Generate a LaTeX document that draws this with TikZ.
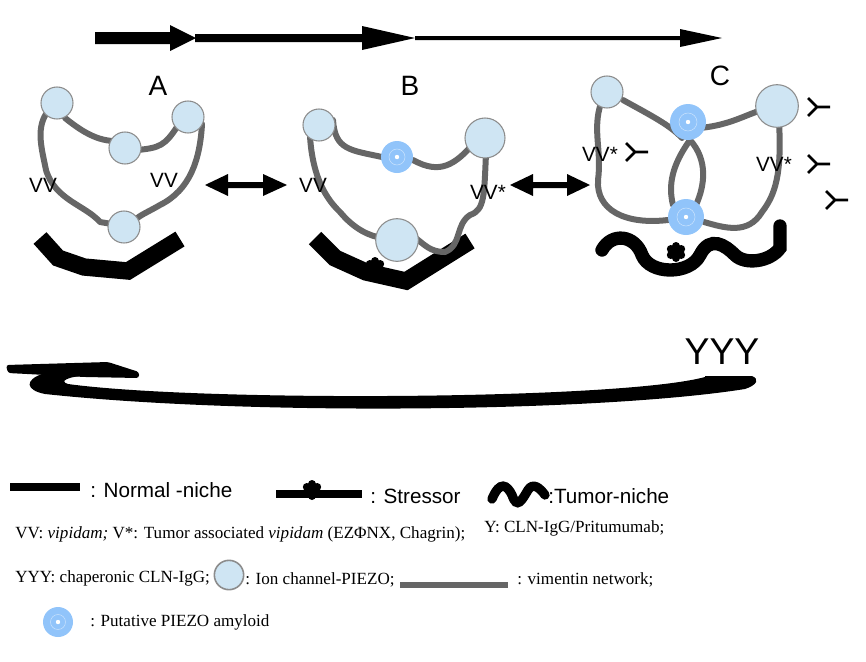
\documentclass[tikz,border=0pt]{standalone}
\usepackage{fontspec}
\setmainfont{Liberation Sans}
\newfontfamily\serif{Liberation Serif}
\usetikzlibrary{calc}
\definecolor{fil}{RGB}{102,102,102}
\definecolor{pz}{RGB}{207,229,243}
\definecolor{amy}{RGB}{145,196,250}
\begin{document}
\begin{tikzpicture}[x=0.75pt,y=-0.75pt,
  fila/.style={draw=fil,line width=4.5pt,line cap=round,line join=round},
  niche/.style={draw=black,line width=13pt,line join=miter},
  tumor/.style={draw=black,line width=10pt,line cap=round},
  lbl/.style={font=\fontsize{21}{24}\selectfont,inner sep=0},
  vv/.style={font=\fontsize{15.5}{18}\selectfont,inner sep=0},
  leg/.style={font=\fontsize{15.5}{18}\selectfont,inner sep=0,anchor=west},
  legs/.style={font=\serif\fontsize{12.8}{15}\selectfont,inner sep=0,anchor=west},
  pzo/.style={circle,fill=pz,draw=gray!90,line width=0.8pt,inner sep=0}]
\useasboundingbox (0,0) rectangle (866,661);
\newcommand\amy[3]{\fill[amy] (#1,#2) circle (#3);
  \draw[white,opacity=.5,line width=.4pt] (#1,#2) circle (#3*0.5);
  \fill[white] (#1,#2) circle (2.2);}
\newcommand\stre[2]{\foreach \a in {30,90,...,330}{\fill (#1,#2) ++(\a:6) circle (4);}\fill (#1,#2) circle (6);}
\newcommand\yy[2]{\draw[line width=2pt] (#1,#2-9) -- (#1+9,#2) -- (#1,#2+9) (#1+9,#2) -- (#1+22,#2);}
% top arrows
\fill (95,32) -- (170,32) -- (170,25) -- (196,38) -- (170,51) -- (170,44) -- (95,44) -- cycle;
\fill (195,34) -- (362,34) -- (362,26) -- (415,38) -- (362,50) -- (362,42) -- (195,42) -- cycle;
\fill (415,36) -- (680,36) -- (680,29) -- (722,38) -- (680,47) -- (680,40) -- (415,40) -- cycle;
% labels
\node[lbl] (lA) at (158,86) {A};
\node[lbl] (lB) at (410,86) {B};
\node[lbl] (lC) at (720,76) {C};
% double arrows
\fill (205,185) -- (228,174) -- (228,182) -- (263,182) -- (263,174) -- (287,185) -- (263,196) -- (263,188) -- (228,188) -- (228,196) -- cycle;
\fill (510,185) -- (533,174) -- (533,182) -- (567,182) -- (567,174) -- (590,185) -- (567,196) -- (567,188) -- (533,188) -- (533,196) -- cycle;
% ---- A
\draw[niche] (40,238) -- (58,258) -- (84,267) -- (128,271) -- (180,239);
\draw[fila] (46,114) .. controls (36,130) and (42,150) .. (46,170) .. controls (55,200) and (85,205) .. (100,222) -- (112,224);
\draw[fila] (65,118) .. controls (80,130) and (95,140) .. (113,141);
\draw[fila] (137,150) .. controls (160,148) and (165,145) .. (177,127);
\draw[fila] (202,124) .. controls (200,160) and (190,190) .. (160,205) .. controls (148,212) and (140,215) .. (135,220);
\node[pzo,minimum size=24] (a1) at (57,103) {};
\node[pzo,minimum size=24] (a2) at (188,117) {};
\node[pzo,minimum size=24] (a3) at (125,148) {};
\node[pzo,minimum size=24] (a4) at (124,227) {};
\node[vv] (va1) at (43,185) {VV};
\node[vv] (va2) at (164,180) {VV};
% ---- B
\draw[niche] (315,238) -- (335,258) -- (366,272) -- (406,281) -- (470,241);
\stre{375}{267}
\draw[fila] (310,136) .. controls (312,170) and (322,195) .. (340,212) .. controls (355,230) and (370,236) .. (382,238);
\draw[fila] (333,120) .. controls (335,150) and (350,150) .. (382,157);
\draw[fila] (413,160) .. controls (440,175) and (455,165) .. (475,142);
\draw[fila] (486,154) .. controls (484,195) and (485,210) .. (470,215) .. controls (455,225) and (462,245) .. (445,252) .. controls (430,252) and (425,245) .. (413,236);
\node[pzo,minimum size=24] (b1) at (319,125) {};
\amy{397}{157}{16}
\node[pzo,minimum size=30] (b3) at (485,138) {};
\node[pzo,minimum size=32] (b4) at (397,240) {};
\node[vv] (vb1) at (313,185) {VV};
\node[vv] (vb2) at (488,192) {VV*};
% ---- C
\draw[tumor] (602,250) .. controls (612,232) and (635,235) .. (642,255) .. controls (650,275) and (690,275) .. (700,255) .. controls (710,235) and (725,245) .. (735,255) .. controls (745,265) and (770,262) .. (780,248) -- (780,226);
\stre{676}{252}
\draw[fila] (601,103) .. controls (592,130) and (602,150) .. (598,180) .. controls (596,210) and (625,225) .. (668,220);
\draw[fila] (623,100) .. controls (650,115) and (670,125) .. (682,138);
\draw[fila] (700,128) .. controls (730,125) and (745,115) .. (762,110);
\draw[fila] (779,122) .. controls (782,175) and (775,195) .. (762,212) .. controls (748,235) and (725,228) .. (704,222);
\draw[fila] (690,140) .. controls (672,165) and (668,185) .. (673,205);
\draw[fila] (690,140) .. controls (708,160) and (705,185) .. (696,205);
\node[pzo,minimum size=24] (c1) at (607,92) {};
\node[pzo,minimum size=32] (c3) at (777,106) {};
\amy{688}{122}{18}
\amy{686}{217}{18}
\node[vv] (vc1) at (600,154) {VV*};
\node[vv] (vc2) at (774,164) {VV*};
\yy{626}{152}
\yy{808}{107}
\yy{808}{164}
\yy{826}{200}
% ---- bottom arrow
\fill (705,376) -- (752,376) .. controls (760,379) and (757,385) .. (745,389) .. controls (600,412) and (250,416) .. (45,394) .. controls (25,390) and (25,380) .. (42,374) -- (80,376) .. controls (70,377) and (58,381) .. (68,384) .. controls (200,402) and (620,400) .. (705,377) -- cycle;
\fill[rounded corners=2] (6,365) -- (108,362) -- (139,372) -- (139,378) -- (85,377) -- (8,373) -- cycle;
\node[font=\fontsize{28}{30}\selectfont,inner sep=0] (yyy) at (722,352) {YYY};
% ---- legend
\draw[line width=6pt] (10,487) -- (80,487);
\node[leg] (l1) at (90,490) {: Normal -niche};
\draw[line width=6pt] (276,494) -- (362,494);
\stre{312}{490}
\node[leg] (l2) at (370,496) {: Stressor};
\draw[tumor,line width=7pt] (492,499) .. controls (500,480) and (507,485) .. (512,495) .. controls (517,510) and (522,500) .. (528,490) .. controls (533,482) and (540,488) .. (545,495);
\node[leg] (l3) at (548,496) {:Tumor-niche};
\node[legs] (t1) at (15,534) {VV: \textit{vipidam;} V*: Tumor associated \textit{vipidam} (EZΦNX, Chagrin);};
\node[legs] (t1b) at (484,528) {Y: CLN-IgG/Pritumumab;};
\node[legs] (t2) at (15,578) {YYY: chaperonic CLN-IgG;};
\node[pzo,minimum size=22,line width=1.2pt] (lp) at (229,575) {};
\node[legs] (t3) at (245,580) {: Ion channel-PIEZO;};
\draw[fil,line width=4.5pt] (400,585) -- (508,585);
\node[legs] (t4) at (517,580) {: vimentin network;};
\amy{58}{622}{15}
\node[legs] (t5) at (90,622) {: Putative PIEZO amyloid};
\end{tikzpicture}
\end{document}
